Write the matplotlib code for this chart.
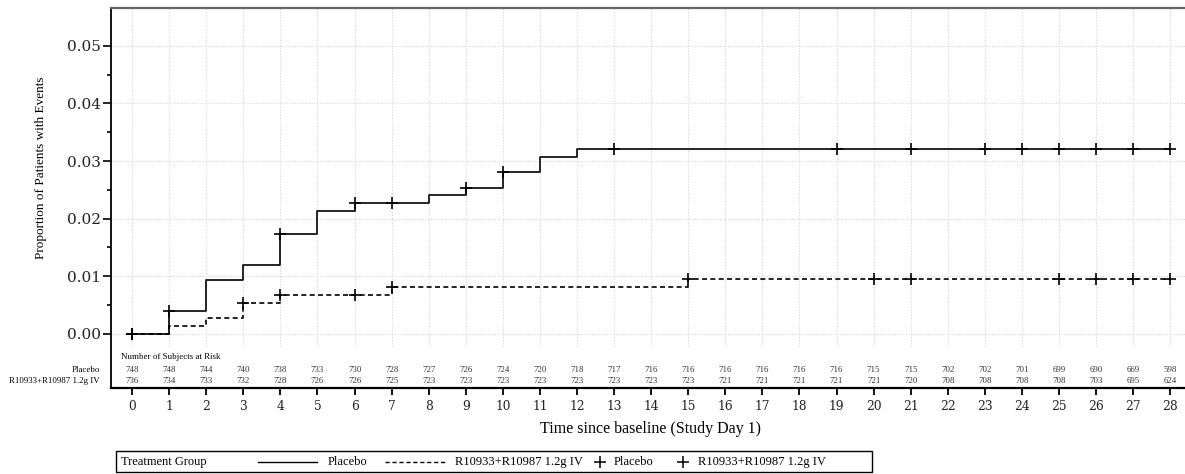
import matplotlib
matplotlib.use("Agg")
import matplotlib.pyplot as plt
import numpy as np
from matplotlib.lines import Line2D
from matplotlib.patches import Rectangle
from matplotlib.ticker import FixedLocator, FormatStrFormatter
import matplotlib.transforms as mtransforms

# step curves (time of change, proportion after change)
placebo_t = [0, 1, 2, 3, 4, 5, 6, 8, 9, 10, 11, 12, 28]
placebo_y = [0.0, 0.0040, 0.0094, 0.0120, 0.0174, 0.0214, 0.0227,
             0.0241, 0.0254, 0.0281, 0.0307, 0.0321, 0.0321]
drug_t = [0, 1, 2, 3, 4, 7, 15, 28]
drug_y = [0.0, 0.0014, 0.0027, 0.0054, 0.0068, 0.0082, 0.0095, 0.0095]

# censored observations
placebo_cens = [0, 1, 4, 6, 7, 9, 10, 13, 19, 21, 23, 24, 25, 26, 27, 28]
drug_cens = [0, 3, 4, 6, 7, 15, 20, 21, 25, 26, 27, 28]

days = list(range(29))
placebo_risk = [748, 748, 744, 740, 738, 733, 730, 728, 727, 726, 724, 720,
                718, 717, 716, 716, 716, 716, 716, 716, 715, 715, 702, 702,
                701, 699, 690, 669, 598]
drug_risk = [736, 734, 733, 732, 728, 726, 726, 725, 723, 723, 723, 723,
             723, 723, 723, 723, 721, 721, 721, 721, 721, 720, 708, 708,
             708, 708, 703, 695, 624]

drug_name = "R10933+R10987 1.2g IV"
serif = ["Liberation Serif", "DejaVu Serif"]
numfont = ["DejaVu Serif"]

W, H = 1185, 474
fig = plt.figure(figsize=(W / 100, H / 100), dpi=100)


def fx(x):
    return x / W


def fy(y):
    return 1 - y / H


ax = fig.add_axes([fx(111), fy(388), 1 - fx(111), fy(8) - fy(388)])
ax.set_xlim(-0.57, 28.4)
ax.set_ylim(-0.00937, 0.05654)

# grid
for d in days:
    ax.plot([d, d], [-0.002, 0.05654], color="#d6d6d6", lw=0.8,
            ls=(0, (1, 1.5)), zorder=0)
for v in np.arange(0, 0.051, 0.01):
    ax.axhline(v, color="#d6d6d6", lw=0.8, ls=(0, (1, 1.5)), zorder=0)


def cens_y(t, y, c):
    idx = np.searchsorted(t, c, side="right") - 1
    return np.array(y)[idx]


ax.step(placebo_t, placebo_y, where="post", color="black", lw=1.2)
ax.step(drug_t, drug_y, where="post", color="black", lw=1.2,
        ls=(0, (3, 2)))
ax.plot(placebo_cens, cens_y(placebo_t, placebo_y, placebo_cens), ls="none",
        marker="+", ms=9, mew=1.2, color="black", clip_on=False)
ax.plot(drug_cens, cens_y(drug_t, drug_y, drug_cens), ls="none",
        marker="+", ms=9, mew=1.2, color="black", clip_on=False)

# risk table
trans = mtransforms.blended_transform_factory(ax.transAxes, ax.transData)
ax.text(0.0093, -0.0040, "Number of Subjects at Risk", transform=trans,
        fontsize=6.4, family=serif, va="center", ha="left")
ax.text(-0.0102, -0.00624, "Placebo", transform=trans, fontsize=6.4,
        family=serif, va="center", ha="right")
ax.text(-0.0102, -0.00815, drug_name, transform=trans, fontsize=6.4,
        family=serif, va="center", ha="right")
for d, a, b in zip(days, placebo_risk, drug_risk):
    ax.text(d, -0.00624, str(a), fontsize=6.4, family=serif, ha="center",
            va="center", color="#333333")
    ax.text(d, -0.00815, str(b), fontsize=6.4, family=serif, ha="center",
            va="center", color="#333333")

# axes styling
ax.spines["right"].set_visible(False)
ax.spines["top"].set_color("#666666")
ax.spines["top"].set_linewidth(1.6)
ax.spines["left"].set_linewidth(1.3)
ax.spines["bottom"].set_linewidth(1.6)

ax.set_xticks(days)
ax.set_yticks([0.0, 0.01, 0.02, 0.03, 0.04, 0.05])
ax.yaxis.set_minor_locator(FixedLocator([0.005, 0.015, 0.025, 0.035, 0.045]))
ax.yaxis.set_major_formatter(FormatStrFormatter("%.2f"))
ax.tick_params(axis="y", which="major", length=5.5, width=1.2, pad=2,
               labelsize=11)
ax.tick_params(axis="y", which="minor", length=3, width=1.2)
ax.tick_params(axis="x", length=5, width=1.3, pad=4, labelsize=8.8)
for lab in ax.get_xticklabels() + ax.get_yticklabels():
    lab.set_family(numfont)
    lab.set_color("#222222")

ax.set_ylabel("Proportion of Patients with Events", family=serif,
              fontsize=9.5)
ax.yaxis.set_label_coords(-(111 - 47) / (W - 111), 0.58)
fig.text(fx(650), fy(429), "Time since baseline (Study Day 1)", family=serif,
         fontsize=11.5, ha="center", va="center")

# legend
fig.add_artist(Rectangle((fx(116), fy(472)), fx(872) - fx(116),
                         fy(451) - fy(472), transform=fig.transFigure,
                         fill=False, ec="black", lw=1))
ly = fy(462)
lfs = 9
fig.text(fx(121), ly, "Treatment Group", family=serif, fontsize=lfs,
         va="center", ha="left")
fig.add_artist(Line2D([fx(258), fx(317)], [ly, ly], color="black", lw=1,
                      transform=fig.transFigure))
fig.text(fx(328), ly, "Placebo", family=serif, fontsize=lfs, va="center")
fig.add_artist(Line2D([fx(385), fx(447)], [ly, ly], color="black", lw=1,
                      ls=(0, (3, 2)), transform=fig.transFigure))
fig.text(fx(455), ly, drug_name, family=serif, fontsize=lfs, va="center")
fig.add_artist(Line2D([fx(600)], [ly], marker="+", ms=9, mew=1.1,
                      color="black", transform=fig.transFigure))
fig.text(fx(614), ly, "Placebo", family=serif, fontsize=lfs, va="center")
fig.add_artist(Line2D([fx(683)], [ly], marker="+", ms=9, mew=1.1,
                      color="black", transform=fig.transFigure))
fig.text(fx(698), ly, drug_name, family=serif, fontsize=lfs, va="center")

fig.savefig("out.png", dpi=100)
